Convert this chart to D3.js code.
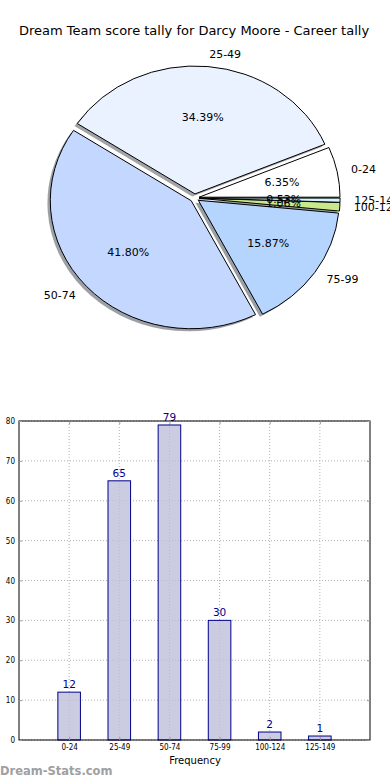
<!DOCTYPE html>
<html>
<head>
<meta charset="utf-8">
<script src="https://cdn.jsdelivr.net/npm/d3@7"></script>
<style>
  body { margin: 0; background: #fff; }
  svg { display: block; font-family: "DejaVu Sans", sans-serif; }
</style>
</head>
<body>
<div id="chart"></div>
<script>
// --- data ---
var categories = ["0-24", "25-49", "50-74", "75-99", "100-124", "125-149"];
var counts = [12, 65, 79, 30, 2, 1];
var sliceColors = ["#ffffff", "#eaf1ff", "#c4d8ff", "#b5d5ff", "#c9e88c", "#d4f5ff"];
var yTicks = [0, 10, 20, 30, 40, 50, 60, 70, 80];

var W = 390, H = 780;
var svg = d3.select("#chart").append("svg")
  .attr("width", W).attr("height", H);

svg.append("text")
  .attr("x", 194).attr("y", 35)
  .attr("text-anchor", "middle")
  .attr("font-size", "13px")
  .text("Dream Team score tally for Darcy Moore - Career tally");

// --- pie (matplotlib style: ccw from 3 o'clock, exploded, shadow) ---
var cx = 194.6, cy = 198, rx = 141, ry = 128, explode = 0.032;
var total = d3.sum(counts);

var pie = d3.pie().sort(null)
  .startAngle(Math.PI / 2)
  .endAngle(Math.PI / 2 - 2 * Math.PI);
var arcs = pie(counts);
var arc = d3.arc().innerRadius(0).outerRadius(1);

function midA(d) { return (d.startAngle + d.endAngle) / 2; }

var pieG = svg.append("g");

// shadows first
arcs.forEach(function (d, i) {
  var a = midA(d);
  var ox = cx + explode * rx * Math.sin(a) - 0.02 * rx;
  var oy = cy - explode * ry * Math.cos(a) + 0.02 * ry;
  var c = d3.rgb(sliceColors[i]);
  pieG.append("path")
    .attr("d", arc(d))
    .attr("transform", "translate(" + ox + "," + oy + ") scale(" + rx + "," + ry + ")")
    .attr("fill", d3.rgb(c.r * 0.3, c.g * 0.3, c.b * 0.3))
    .attr("fill-opacity", 0.5);
});

arcs.forEach(function (d, i) {
  var a = midA(d);
  var ox = cx + explode * rx * Math.sin(a);
  var oy = cy - explode * ry * Math.cos(a);
  pieG.append("path")
    .attr("d", arc(d))
    .attr("transform", "translate(" + ox + "," + oy + ") scale(" + rx + "," + ry + ")")
    .attr("fill", sliceColors[i])
    .attr("stroke", "#000")
    .attr("stroke-width", 1)
    .attr("vector-effect", "non-scaling-stroke");
});

arcs.forEach(function (d, i) {
  var a = midA(d);
  var ox = cx + explode * rx * Math.sin(a);
  var oy = cy - explode * ry * Math.cos(a);
  var sx = Math.sin(a), sy = -Math.cos(a);
  // category label at 1.1 r
  pieG.append("text")
    .attr("x", ox + 1.1 * rx * sx)
    .attr("y", oy + 1.1 * ry * sy)
    .attr("dy", "0.35em")
    .attr("text-anchor", sx >= 0 ? "start" : "end")
    .attr("font-size", "11px")
    .text(categories[i]);
  // percentage at 0.6 r
  pieG.append("text")
    .attr("x", ox + 0.6 * rx * sx)
    .attr("y", oy + 0.6 * ry * sy)
    .attr("dy", "0.35em")
    .attr("text-anchor", "middle")
    .attr("font-size", "11px")
    .text((counts[i] / total * 100).toFixed(2) + "%");
});

// --- bar chart ---
var plotLeft = 19, plotRight = 370, plotTop = 421, plotBottom = 740;
var x = d3.scaleLinear().domain([-1, 6]).range([plotLeft, plotRight]);
var y = d3.scaleLinear().domain([0, 80]).range([plotBottom, plotTop]);
var barW = 0.45;

var bg = svg.append("g");

// grid
bg.selectAll(".vgrid").data(categories).enter().append("line")
  .attr("x1", function (d, i) { return x(i); })
  .attr("x2", function (d, i) { return x(i); })
  .attr("y1", plotTop).attr("y2", plotBottom)
  .attr("stroke", "#b0b0b0").attr("stroke-width", 1)
  .attr("stroke-dasharray", "1,2");
bg.selectAll(".hgrid").data(yTicks).enter().append("line")
  .attr("x1", plotLeft).attr("x2", plotRight)
  .attr("y1", function (d) { return y(d); })
  .attr("y2", function (d) { return y(d); })
  .attr("stroke", "#b0b0b0").attr("stroke-width", 1)
  .attr("stroke-dasharray", "1,2");

bg.selectAll(".bar").data(counts).enter().append("rect")
  .attr("x", function (d, i) { return x(i - barW / 2); })
  .attr("y", function (d) { return y(d); })
  .attr("width", x(barW) - x(0))
  .attr("height", function (d) { return plotBottom - y(d); })
  .attr("fill", "#bebedb")
  .attr("fill-opacity", 0.8)
  .attr("stroke", "#00008b")
  .attr("stroke-width", 1);

bg.selectAll(".val").data(counts).enter().append("text")
  .attr("x", function (d, i) { return x(i); })
  .attr("y", function (d) { return y(d) - 4; })
  .attr("text-anchor", "middle")
  .attr("font-size", "10.5px")
  .attr("fill", "#00008b")
  .text(function (d) { return d; });

// frame
bg.append("rect")
  .attr("x", plotLeft).attr("y", plotTop)
  .attr("width", plotRight - plotLeft).attr("height", plotBottom - plotTop)
  .attr("fill", "none").attr("stroke", "#000").attr("stroke-width", 1);

// axes (inward ticks like matplotlib, labels outside)
var xAxis = d3.axisBottom(x)
  .tickValues(d3.range(categories.length))
  .tickFormat(function (d) { return categories[d]; })
  .tickSizeInner(-3).tickSizeOuter(0).tickPadding(4);
var xg = bg.append("g").attr("transform", "translate(0," + plotBottom + ")").call(xAxis);
xg.select(".domain").remove();
xg.selectAll("line").attr("stroke", "#999");
xg.selectAll("text").attr("font-size", "8px").attr("font-family", "DejaVu Sans Condensed, DejaVu Sans");

var xTopAxis = d3.axisTop(x).tickValues(d3.range(categories.length))
  .tickFormat("").tickSizeInner(-3).tickSizeOuter(0);
var xtg = bg.append("g").attr("transform", "translate(0," + plotTop + ")").call(xTopAxis);
xtg.select(".domain").remove();
xtg.selectAll("line").attr("stroke", "#999");

var yAxis = d3.axisLeft(y).tickValues(yTicks).tickSizeInner(-3).tickSizeOuter(0).tickPadding(4);
var yg = bg.append("g").attr("transform", "translate(" + plotLeft + ",0)").call(yAxis);
yg.select(".domain").remove();
yg.selectAll("line").attr("stroke", "#999");
yg.selectAll("text").attr("font-size", "8px").attr("font-family", "DejaVu Sans Condensed, DejaVu Sans");

var yRightAxis = d3.axisRight(y).tickValues(yTicks).tickFormat("").tickSizeInner(-3).tickSizeOuter(0);
var yrg = bg.append("g").attr("transform", "translate(" + plotRight + ",0)").call(yRightAxis);
yrg.select(".domain").remove();
yrg.selectAll("line").attr("stroke", "#999");

svg.append("text")
  .attr("x", 195).attr("y", 764)
  .attr("text-anchor", "middle")
  .attr("font-size", "10px")
  .text("Frequency");

svg.append("text")
  .attr("x", 0).attr("y", 775)
  .attr("font-size", "11.5px")
  .attr("font-weight", "bold")
  .attr("fill", "#a0a0a0")
  .text("Dream-Stats.com");
</script>
</body>
</html>
